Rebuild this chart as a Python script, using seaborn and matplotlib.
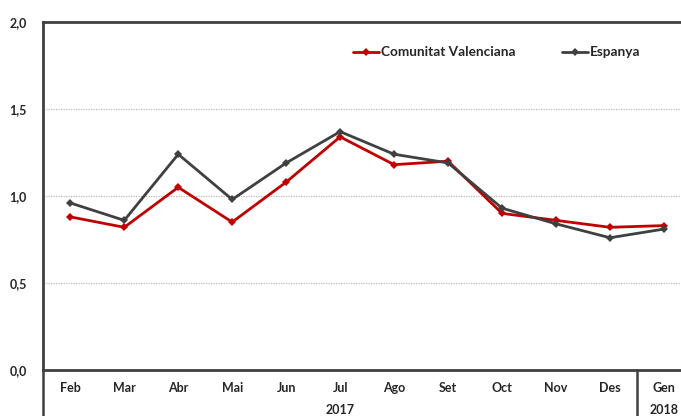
import pandas as pd
import numpy as np
import matplotlib
matplotlib.use("Agg")
import matplotlib.pyplot as plt
import seaborn as sns

# monthly values
months = ["Feb", "Mar", "Abr", "Mai", "Jun", "Jul", "Ago", "Set", "Oct", "Nov", "Des", "Gen"]
cv_values = [0.88, 0.82, 1.05, 0.85, 1.08, 1.34, 1.18, 1.20, 0.90, 0.86, 0.82, 0.83]
es_values = [0.96, 0.86, 1.24, 0.98, 1.19, 1.37, 1.24, 1.19, 0.93, 0.84, 0.76, 0.81]
series_names = ["Comunitat Valenciana", "Espanya"]
years = ["2017", "2018"]
y_ticks = [0.0, 0.5, 1.0, 1.5, 2.0]

sns.set_style("white")
plt.rcParams['font.family'] = ['Lato', 'DejaVu Sans']

df = pd.DataFrame({
    "mes": months * 2,
    "pos": list(range(len(months))) * 2,
    "valor": cv_values + es_values,
    "serie": [series_names[0]] * len(months) + [series_names[1]] * len(months),
})

fig = plt.figure(figsize=(6.81, 4.16), dpi=100)
ax = fig.add_axes([0.0636, 0.1106, 0.951, 0.8365])

palette = {series_names[0]: "#C00000", series_names[1]: "#404040"}
sns.lineplot(data=df, x="pos", y="valor", hue="serie", palette=palette,
             style="serie", markers={series_names[0]: "D", series_names[1]: "D"},
             dashes=False, linewidth=2, markersize=4, markeredgewidth=0,
             ax=ax, legend=True)

ax.set_xlim(-0.5, len(months) - 0.5)
ax.set_ylim(0, 2.0)
ax.set_yticks(y_ticks)
ax.set_yticklabels([f"{t:.1f}".replace(".", ",") for t in y_ticks],
                   fontsize=9, fontweight="bold")
ax.tick_params(axis="y", length=0, pad=12)

# month labels, separators as minor ticks
ax.set_xticks(range(len(months)))
ax.set_xticklabels(months, fontsize=9, fontweight="bold")
ax.tick_params(axis="x", which="major", length=0, pad=9)
ax.set_xticks(np.arange(0.5, len(months) - 1, 1.0), minor=True)
ax.tick_params(axis="x", which="minor", length=17, width=1.8, color="#404040", direction="out")
ax.set_xlabel("")
ax.set_ylabel("")

# year group separators
for xs in [-0.5, len(months) - 1.5]:
    ax.axvline(xs, ymin=-0.135, ymax=0, color="#404040", lw=1.8, clip_on=False)
ax.text(5, -0.115, years[0], transform=ax.get_xaxis_transform(), ha="center", va="center",
        fontsize=9, fontweight="bold")
ax.text(11, -0.115, years[1], transform=ax.get_xaxis_transform(), ha="center", va="center",
        fontsize=9, fontweight="bold")

for t in [0.5, 1.0, 1.5]:
    ax.axhline(t, color="#BBBBBB", lw=0.9, ls=(0, (1, 1)), zorder=0)

for side in ["top", "left", "bottom", "right"]:
    ax.spines[side].set_color("#404040")
    ax.spines[side].set_linewidth(2)

handles, labels = ax.get_legend_handles_labels()
ax.legend(handles, labels, loc="upper center", bbox_to_anchor=(0.70, 0.965), ncol=2,
          frameon=False, prop={"weight": "bold", "size": 9.8},
          handlelength=1.9, handletextpad=0.15, columnspacing=3.4, numpoints=1)

fig.savefig("out.png", dpi=100)
